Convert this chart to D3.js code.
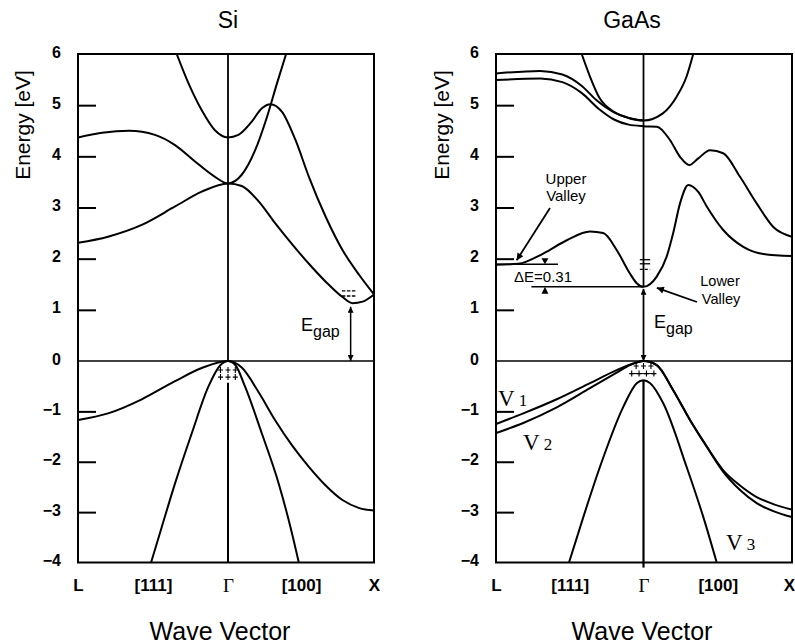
<!DOCTYPE html>
<html>
<head>
<meta charset="utf-8">
<script src="https://cdn.jsdelivr.net/npm/d3@7"></script>
<style>
  body { margin: 0; background: #fff; }
  svg { display: block; }
  text { font-family: "Liberation Sans", Arial, sans-serif; fill: #000; }
</style>
</head>
<body>
<div id="chart"></div>
<script>
// Axis ticks: k runs from L (-1) through Gamma (0) to X (1)
const kTicks = [-1, -0.5, 0, 0.5, 1];
const kLabels = ["L", "[111]", "\u0393", "[100]", "X"];
const eTicks = [-4, -3, -2, -1, 0, 1, 2, 3, 4, 5, 6];
const eInner = [-3, -2, -1, 1, 2, 3, 4, 5];

// Si bands, [k, energy in eV]
const siCond1 = [[-1, 2.31], [-0.8, 2.43], [-0.575, 2.66], [-0.353, 3.02], [-0.175, 3.31], [0, 3.47],
  [0.094, 3.42], [0.21, 3.12], [0.324, 2.69], [0.44, 2.28], [0.554, 1.9], [0.669, 1.55],
  [0.784, 1.25], [0.853, 1.13], [0.922, 1.16], [1, 1.3]];
const siCond2 = [[-1, 4.37], [-0.84, 4.46], [-0.66, 4.5], [-0.487, 4.42], [-0.353, 4.22], [-0.22, 3.9],
  [-0.087, 3.6], [0, 3.47], [0.094, 3.64], [0.186, 4.12], [0.267, 4.77], [0.336, 5.43], [0.398, 6.0]];
const siCond3 = [[-0.342, 6.0], [-0.264, 5.43], [-0.175, 4.9], [-0.087, 4.51], [0, 4.37], [0.071, 4.42],
  [0.163, 4.68], [0.232, 4.94], [0.29, 5.02], [0.37, 4.87], [0.462, 4.32], [0.554, 3.6],
  [0.669, 2.82], [0.784, 2.17], [0.899, 1.68], [1, 1.3]];
const siHeavy = [[-1, -1.17], [-0.8, -1.04], [-0.575, -0.76], [-0.353, -0.4], [-0.175, -0.14], [0, 0],
  [0.094, -0.13], [0.21, -0.62], [0.324, -1.18], [0.44, -1.68], [0.554, -2.1], [0.669, -2.47],
  [0.784, -2.76], [0.899, -2.92], [1, -2.97]];
const siLight = [[-0.513, -4.0], [-0.442, -3.3], [-0.353, -2.43], [-0.242, -1.44], [-0.131, -0.51],
  [-0.05, -0.08], [0, 0], [0.05, -0.08], [0.117, -0.51], [0.232, -1.44], [0.347, -2.43],
  [0.428, -3.3], [0.485, -4.0]];

// GaAs bands, [k, energy in eV]
const gaCond1 = [[-1, 1.88], [-0.85, 1.9], [-0.68, 2.1], [-0.52, 2.36], [-0.363, 2.53], [-0.273, 2.5],
  [-0.182, 2.17], [-0.092, 1.71], [-0.046, 1.52], [0, 1.45], [0.089, 1.65], [0.156, 2.04],
  [0.2, 2.5], [0.246, 3.08], [0.302, 3.44], [0.37, 3.3], [0.426, 3.02], [0.537, 2.56],
  [0.672, 2.23], [0.807, 2.09], [1, 2.05]];
const gaCond2 = [[-1, 5.49], [-0.7, 5.52], [-0.55, 5.45], [-0.42, 5.24], [-0.3, 4.92], [-0.2, 4.72],
  [-0.1, 4.62], [0, 4.59], [0.09, 4.58], [0.178, 4.32], [0.246, 3.99], [0.308, 3.83],
  [0.369, 3.96], [0.448, 4.12], [0.537, 4.06], [0.65, 3.6], [0.762, 3.08], [0.874, 2.62], [1, 2.43]];
const gaCond3 = [[-1, 5.62], [-0.7, 5.67], [-0.55, 5.6], [-0.42, 5.38], [-0.32, 5.1], [-0.2, 4.86],
  [-0.1, 4.75], [0, 4.7]];
const gaCond4 = [[-0.419, 6.0], [-0.363, 5.56], [-0.3, 5.15], [-0.2, 4.87], [-0.1, 4.75], [0, 4.7],
  [0.13, 4.84], [0.224, 5.17], [0.29, 5.56], [0.335, 6.0]];
const gaV1 = [[-1, -1.25], [-0.815, -1.04], [-0.588, -0.76], [-0.363, -0.44], [-0.182, -0.18],
  [-0.069, -0.05], [0, 0], [0.089, -0.08], [0.2, -0.58], [0.313, -1.17], [0.426, -1.7],
  [0.537, -2.17], [0.65, -2.47], [0.762, -2.7], [0.874, -2.84], [1, -2.95]];
const gaV2 = [[-1, -1.43], [-0.815, -1.23], [-0.588, -0.92], [-0.363, -0.54], [-0.182, -0.23],
  [-0.092, -0.08], [0, 0], [0.089, -0.08], [0.2, -0.58], [0.313, -1.17], [0.426, -1.7],
  [0.537, -2.2], [0.65, -2.56], [0.762, -2.82], [0.874, -2.98], [1, -3.1]];
const gaV3 = [[-0.505, -4.0], [-0.408, -3.1], [-0.295, -2.1], [-0.137, -0.91], [-0.046, -0.44],
  [0, -0.38], [0.045, -0.44], [0.133, -0.84], [0.29, -2.1], [0.403, -3.1], [0.493, -4.0]];

const siGap = 1.12, gaGap = 1.43, gaValley = 1.89;

const svg = d3.select("#chart").append("svg")
  .attr("width", 795)
  .attr("height", 644);

const defs = svg.append("defs");
defs.append("marker")
  .attr("id", "head")
  .attr("viewBox", "0 0 10 10")
  .attr("refX", 10).attr("refY", 5)
  .attr("markerUnits", "userSpaceOnUse")
  .attr("markerWidth", 7).attr("markerHeight", 6)
  .attr("orient", "auto-start-reverse")
  .append("path").attr("d", "M0,0L10,5L0,10Z");
defs.append("marker")
  .attr("id", "bighead")
  .attr("viewBox", "0 0 10 10")
  .attr("refX", 10).attr("refY", 5)
  .attr("markerUnits", "userSpaceOnUse")
  .attr("markerWidth", 10).attr("markerHeight", 7)
  .attr("orient", "auto")
  .append("path").attr("d", "M0,0L10,5L0,10Z");

// energy scale (the scan is slightly uneven around 0)
const y = d3.scaleLinear().domain([-4, 0, 6]).range([562.5, 361, 54]);

const panels = [
  {title: "Si", left: 78, gamma: 228, right: 374, titleX: 228, labelX: 30, waveX: 220,
   bands: [siCond1, siCond2, siCond3, siHeavy, siLight]},
  {title: "GaAs", left: 496, gamma: 643.5, right: 792, titleX: 632, labelX: 449, waveX: 642,
   bands: [gaCond1, gaCond2, gaCond3, gaCond4, gaV1, gaV2, gaV3]}
];

function sub(g, px, py, main, subText) {
  const t = g.append("text").attr("x", px).attr("y", py).style("font-size", "18px");
  t.append("tspan").text(main);
  t.append("tspan").attr("dy", 6).style("font-size", "16px").text(subText);
}

panels.forEach((p, pi) => {
  const x = d3.scaleLinear().domain([-1, 0, 1]).range([p.left, p.gamma, p.right]);
  const g = svg.append("g");

  defs.append("clipPath").attr("id", "clip" + pi)
    .append("rect")
    .attr("x", p.left).attr("y", y(6))
    .attr("width", p.right - p.left).attr("height", y(-4) - y(6));

  // titles
  g.append("text").attr("x", p.titleX).attr("y", 28)
    .attr("text-anchor", "middle").style("font-size", "23px").text(p.title);
  g.append("text")
    .attr("transform", `translate(${p.labelX},125) rotate(-90)`)
    .attr("text-anchor", "middle").style("font-size", "21px").text("Energy [eV]");
  g.append("text").attr("x", p.waveX).attr("y", 640)
    .attr("text-anchor", "middle").style("font-size", "25px").text("Wave Vector");

  // y axis labels
  const yAxis = g.append("g")
    .attr("transform", `translate(${p.left},-2)`)
    .call(d3.axisLeft(y).tickValues(eTicks).tickSize(0).tickPadding(17));
  yAxis.select(".domain").remove();
  yAxis.selectAll("text").style("font-size", "16px").style("font-weight", "bold")
    .style("font-family", "'Liberation Sans', Arial, sans-serif");

  // inner ticks
  const yTicks = g.append("g")
    .attr("transform", `translate(${p.left},0)`)
    .call(d3.axisRight(y).tickValues(eInner).tickSize(18).tickFormat(""));
  yTicks.select(".domain").remove();
  yTicks.selectAll("line").attr("stroke", "#000").attr("stroke-width", 2);

  // x axis labels
  const xAxis = g.append("g")
    .attr("transform", `translate(0,${y(-4)})`)
    .call(d3.axisBottom(x).tickValues(kTicks).tickFormat((d, i) => kLabels[i]).tickSize(0).tickPadding(16));
  xAxis.select(".domain").remove();
  xAxis.selectAll("text").style("font-size", "17px").style("font-weight", "bold")
    .style("font-family", "'Liberation Sans', Arial, sans-serif");
  xAxis.selectAll("text").filter(d => d === 0)
    .style("font-family", "'Liberation Serif', 'Times New Roman', serif")
    .style("font-weight", "normal").style("font-size", "19px");
  if (pi === 1) xAxis.selectAll("text").filter(d => d === 1).attr("dx", -3);

  // frame, zero line
  g.append("rect")
    .attr("x", p.left).attr("y", y(6))
    .attr("width", p.right - p.left).attr("height", y(-4) - y(6))
    .attr("fill", "none").attr("stroke", "#000").attr("stroke-width", 2);
  g.append("line")
    .attr("x1", p.left).attr("x2", p.right).attr("y1", y(0)).attr("y2", y(0))
    .attr("stroke", "#000").attr("stroke-width", 1.6);

  // bands
  const line = d3.line().x(d => x(d[0])).y(d => y(d[1])).curve(d3.curveMonotoneX);
  g.append("g").attr("clip-path", `url(#clip${pi})`)
    .selectAll("path").data(p.bands).join("path")
    .attr("d", line)
    .attr("fill", "none").attr("stroke", "#000").attr("stroke-width", 2);

  const vline = (e1, e2, w) => g.append("line")
    .attr("x1", x(0)).attr("x2", x(0)).attr("y1", y(e1)).attr("y2", y(e2))
    .attr("stroke", "#000").attr("stroke-width", w);

  const cross = (cx, cy) => g.append("path")
    .attr("d", `M${cx - 2.5},${cy}H${cx + 2.5}M${cx},${cy - 3}V${cy + 3}`)
    .attr("stroke", "#000").attr("stroke-width", 1.1);

  if (pi === 0) {
    vline(6, 0, 1.8);
    vline(-0.43, -4, 2);
    // holes at the valence maximum
    [-0.05, 0, 0.05].forEach(k => { cross(x(k), y(-0.18)); cross(x(k), y(-0.32)); });
    // electrons in the X valley
    [siGap + 0.25, siGap + 0.15].forEach(e => g.append("line")
      .attr("x1", x(0.78)).attr("x2", x(0.88)).attr("y1", y(e)).attr("y2", y(e))
      .attr("stroke", "#000").attr("stroke-width", 1.4).attr("stroke-dasharray", "3.5,1.5"));
    // band gap arrow
    g.append("line")
      .attr("x1", x(0.84)).attr("x2", x(0.84)).attr("y1", y(siGap - 0.06)).attr("y2", y(0))
      .attr("stroke", "#000").attr("stroke-width", 1.5)
      .attr("marker-start", "url(#head)").attr("marker-end", "url(#head)");
    sub(g, 301, 331, "E", "gap");
  } else {
    vline(6, 1.45, 1.8);
    vline(-0.38, -4.1, 2.2);
    // holes
    [-0.05, 0, 0.05].forEach(k => cross(x(k), y(-0.1)));
    [-0.08, -0.03, 0.02, 0.07].forEach(k => cross(x(k), y(-0.25)));
    g.append("line").attr("x1", x(-0.09)).attr("x2", x(0.08)).attr("y1", y(-0.25)).attr("y2", y(-0.25))
      .attr("stroke", "#000").attr("stroke-width", 1);
    // electrons in the Gamma valley
    [[1.98, null], [1.9, null], [1.79, "3,2"]].forEach(([e, dash]) => g.append("line")
      .attr("x1", x(-0.025)).attr("x2", x(0.045)).attr("y1", y(e)).attr("y2", y(e))
      .attr("stroke", "#000").attr("stroke-width", 1.3).attr("stroke-dasharray", dash));
    // band gap arrow
    g.append("line")
      .attr("x1", x(0)).attr("x2", x(0)).attr("y1", y(gaGap - 0.02)).attr("y2", y(0))
      .attr("stroke", "#000").attr("stroke-width", 1.8)
      .attr("marker-start", "url(#head)").attr("marker-end", "url(#head)");
    sub(g, 654, 328, "E", "gap");

    // delta E markers
    g.append("line").attr("x1", x(-1)).attr("x2", x(-0.58)).attr("y1", y(gaValley)).attr("y2", y(gaValley))
      .attr("stroke", "#000").attr("stroke-width", 1.6);
    g.append("line").attr("x1", x(-0.76)).attr("x2", x(0)).attr("y1", y(1.45)).attr("y2", y(1.45))
      .attr("stroke", "#000").attr("stroke-width", 1.6);
    const tx = x(-0.668);
    g.append("path").attr("d", `M${tx - 3.5},${y(gaValley) - 6}L${tx + 3.5},${y(gaValley) - 6}L${tx},${y(gaValley)}Z`);
    g.append("path").attr("d", `M${tx - 3.5},${y(1.45) + 7}L${tx + 3.5},${y(1.45) + 7}L${tx},${y(1.45)}Z`);
    g.append("text").attr("x", 514).attr("y", 282).style("font-size", "15px").text("\u0394E=0.31");

    // valley labels with arrows
    g.append("text").attr("x", 566).attr("y", 184).attr("text-anchor", "middle").style("font-size", "15px").text("Upper");
    g.append("text").attr("x", 566).attr("y", 201).attr("text-anchor", "middle").style("font-size", "15px").text("Valley");
    g.append("line").attr("x1", 550).attr("y1", 208).attr("x2", x(-0.86)).attr("y2", y(gaValley) - 4)
      .attr("stroke", "#000").attr("stroke-width", 1.8).attr("marker-end", "url(#bighead)");
    g.append("text").attr("x", 720).attr("y", 286).attr("text-anchor", "middle").style("font-size", "14.5px").text("Lower");
    g.append("text").attr("x", 721).attr("y", 303.5).attr("text-anchor", "middle").style("font-size", "14.5px").text("Valley");
    g.append("line").attr("x1", 697).attr("y1", 302).attr("x2", x(0.09)).attr("y2", y(1.45) + 1)
      .attr("stroke", "#000").attr("stroke-width", 1.8).attr("marker-end", "url(#bighead)");

    // valence band names
    const vLabel = (px, py, n) => {
      const t = g.append("text").attr("x", px).attr("y", py)
        .style("font-family", "'Liberation Serif', 'Times New Roman', serif").style("font-size", "23px");
      t.append("tspan").text("V");
      t.append("tspan").attr("dx", 4).style("font-size", "17px").text(n);
    };
    vLabel(498, 406, "1");
    vLabel(523, 450, "2");
    vLabel(726, 550, "3");
  }
});
</script>
</body>
</html>
